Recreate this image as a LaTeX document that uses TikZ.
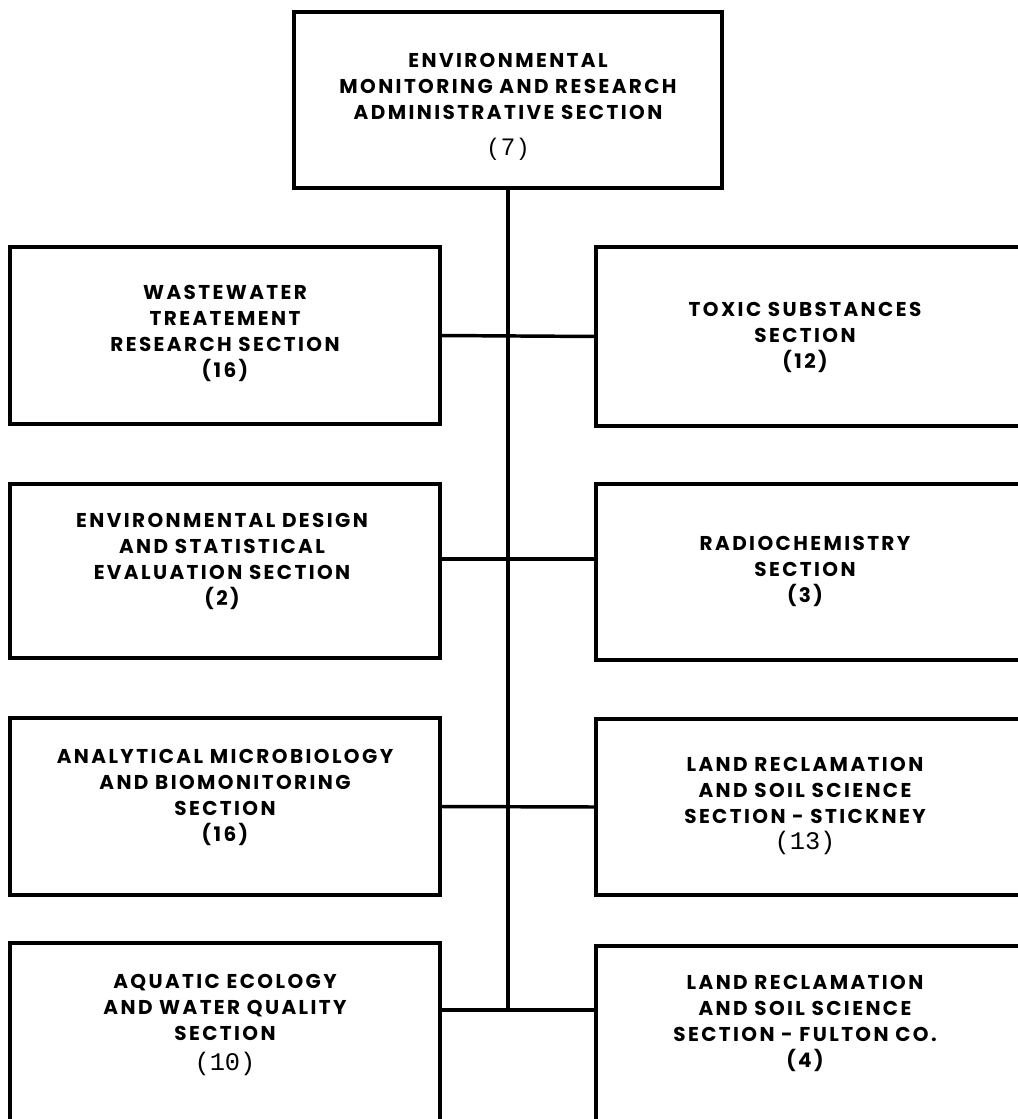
\documentclass[tikz,border=0pt]{standalone}
\usepackage{fontspec}
\setmainfont{Poppins}[LetterSpace=12]
\newfontfamily\numsans{Liberation Sans}[LetterSpace=20]
\newfontfamily\nummono{Liberation Mono}

\tikzset{every picture/.style={line width=0.75pt}}
\tikzset{
  secbox/.style={draw, line width=3pt, inner sep=0pt, outer sep=0pt},
  sectext/.style={inner sep=0.75pt, align=center, font=\fontsize{15}{19.5}\selectfont\bfseries},
  orgline/.style={line width=2.6pt},
}

\begin{document}
\begin{tikzpicture}[x=0.75pt,y=0.75pt,yscale=-1,xscale=1]
\useasboundingbox (0,0) rectangle (1017,1119);

%Shape: Rectangle
\node [secbox, minimum width=321pt, minimum height=132pt] (admin) at (508,100) {};
%Shape: Rectangle
\node [secbox, minimum width=322.5pt, minimum height=132.75pt] (wwt) at (225,335.5) {};
%Shape: Rectangle
\node [secbox, minimum width=325.5pt, minimum height=134.25pt] (tox) at (813,336.5) {};
%Shape: Rectangle
\node [secbox, minimum width=322.5pt, minimum height=130.5pt] (envdes) at (225,571) {};
%Shape: Rectangle
\node [secbox, minimum width=325.5pt, minimum height=132pt] (radio) at (813,572) {};
%Shape: Rectangle
\node [secbox, minimum width=322.5pt, minimum height=132.75pt] (micro) at (225,806.5) {};
%Shape: Rectangle
\node [secbox, minimum width=325.5pt, minimum height=132pt] (stick) at (813,807) {};
%Shape: Rectangle
\node [secbox, minimum width=322.5pt, minimum height=144pt] (aqua) at (225,1039) {};
%Shape: Rectangle
\node [secbox, minimum width=325.5pt, minimum height=141.75pt] (fulton) at (813,1040.5) {};

%Straight Lines
\coordinate (jrow2) at (508,559);
\coordinate (spineend) at (508,1010);
\draw [orgline] (admin.south) -- (spineend);
%Straight Lines
\draw [orgline] (wwt.east) -- (tox.west);
%Straight Lines
\draw [orgline] (envdes.east |- jrow2) -- (radio.west |- jrow2);
%Straight Lines
\draw [orgline] (micro.east) -- (stick.west);
%Straight Lines
\draw [orgline] (aqua.east |- spineend) -- (fulton.west |- spineend);

% Text Node
\node [sectext] (admintxt) at (508,107) {ENVIRONMENTAL\\MONITORING AND RESEARCH\\ADMINISTRATIVE SECTION\\[7pt]{\numsans\mdseries\fontsize{18}{19}\selectfont(7)}};
% Text Node
\node [sectext] (wwttxt) at (225,333) {WASTEWATER\\TREATEMENT\\RESEARCH SECTION\\(16)};
% Text Node
\node [sectext] (toxtxt) at (805,337.5) {TOXIC SUBSTANCES\\SECTION\\(12)};
% Text Node
\node [sectext] (envdestxt) at (222,561) {ENVIRONMENTAL DESIGN\\AND STATISTICAL\\EVALUATION SECTION\\(2)};
% Text Node
\node [sectext] (radiotxt) at (805,571.5) {RADIOCHEMISTRY\\SECTION\\(3)};
% Text Node
\node [sectext] (microtxt) at (225,797) {ANALYTICAL MICROBIOLOGY\\AND BIOMONITORING\\SECTION\\(16)};
% Text Node
\node [sectext] (sticktxt) at (805,806) {LAND RECLAMATION\\AND SOIL SCIENCE\\SECTION - STICKNEY\\{\nummono\mdseries\fontsize{19}{19}\selectfont(13)}};
% Text Node
\node [sectext] (aquatxt) at (225,1025) {AQUATIC ECOLOGY\\AND WATER QUALITY\\SECTION\\[3pt]{\nummono\mdseries\fontsize{19}{19}\selectfont(10)}};
% Text Node
\node [sectext] (fultontxt) at (805,1023) {LAND RECLAMATION\\AND SOIL SCIENCE\\SECTION - FULTON CO.\\(4)};

\end{tikzpicture}
\end{document}
